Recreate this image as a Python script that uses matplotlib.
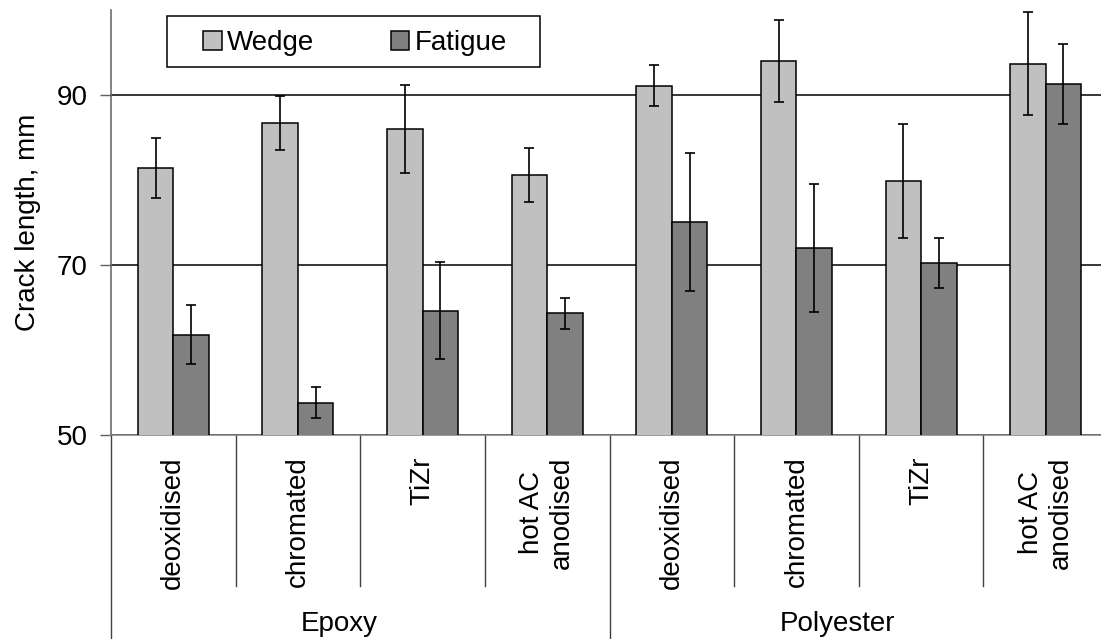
"""
Crack length for wedge and fatigue tests, by surface treatment and adhesive.
"""

import numpy as np
import matplotlib.pyplot as plt
from matplotlib.patches import Rectangle
from matplotlib.transforms import blended_transform_factory

plt.rcParams['font.family'] = ['Liberation Sans', 'DejaVu Sans']

# dados
tratamentos = ["deoxidised", "chromated", "TiZr", "hot AC\nanodised",
               "deoxidised", "chromated", "TiZr", "hot AC\nanodised"]
grupos = ["Epoxy", "Polyester"]
wedge = [81.4, 86.7, 86.0, 80.6, 91.1, 94.0, 79.9, 93.7]
wedge_err = [3.5, 3.2, 5.2, 3.2, 2.4, 4.8, 6.7, 6.1]
fatigue = [61.8, 53.8, 64.6, 64.3, 75.1, 72.0, 70.2, 91.3]
fatigue_err = [3.5, 1.85, 5.7, 1.8, 8.1, 7.5, 2.95, 4.75]

COR_WEDGE = "#c0c0c0"
COR_FATIGUE = "#808080"
FS = 20


def main():
    fig = plt.figure(figsize=(11.01, 6.39), dpi=100)
    W, H = 1101, 639
    ax = fig.add_axes([111 / W, 204 / H, 997 / W, 425 / H])

    x = np.arange(len(tratamentos))
    larg = 0.285
    err_kw = dict(ecolor="black", elinewidth=1.2, capsize=3.3, capthick=1.2)
    ax.bar(x - larg / 2, wedge, larg, color=COR_WEDGE,
           edgecolor="black", linewidth=1.1, yerr=wedge_err,
           error_kw=err_kw, label="Wedge", zorder=3)
    ax.bar(x + larg / 2, fatigue, larg, color=COR_FATIGUE,
           edgecolor="black", linewidth=1.1, yerr=fatigue_err,
           error_kw=err_kw, label="Fatigue", zorder=3)

    ax.set_xlim(-0.5, len(tratamentos) - 0.5)
    ax.set_ylim(50, 100)
    ax.set_yticks([50, 70, 90])
    ax.yaxis.grid(True, color="black", linewidth=1.1, zorder=0)
    ax.tick_params(axis="y", labelsize=FS, length=8, width=1, color="#606060", pad=9)
    ax.set_xticks([])
    ax.set_ylabel("Crack length, mm", fontsize=FS)
    ax.yaxis.set_label_coords(-0.07, 0.5)

    for lado in ["top", "right"]:
        ax.spines[lado].set_visible(False)
    ax.spines["left"].set_color("#606060")
    ax.spines["bottom"].set_color("#808080")
    ax.spines["left"].set_linewidth(1.1)
    ax.spines["bottom"].set_linewidth(1.1)

    # rótulos hierárquicos no eixo x
    trans = blended_transform_factory(ax.transData, ax.transAxes)
    for i, t in enumerate(tratamentos):
        ax.text(i, -0.05, t, rotation=90, ha="center", va="top",
                multialignment="center", fontsize=FS, transform=trans)
    for i in range(len(tratamentos) - 1):
        if i == 3:
            continue
        ax.plot([i + 0.5, i + 0.5], [0, -0.355], color="#404040", lw=1,
                transform=trans, clip_on=False)
    for b in [-0.5, 3.5, 7.5]:
        ax.plot([b, b], [0, -0.48], color="#404040", lw=1,
                transform=trans, clip_on=False)
    for g, centro in zip(grupos, [1.5, 5.5]):
        ax.text(centro - 0.17, -0.445, g, ha="center", va="center",
                fontsize=FS, transform=trans)

    # legenda com moldura
    fig.patches.append(Rectangle((167 / W, 1 - 67 / H), 373 / W, 51 / H,
                                 transform=fig.transFigure, fill=False,
                                 edgecolor="black", linewidth=1.1))
    fig.legend(loc="center", bbox_to_anchor=(355 / W, 1 - 43 / H),
               ncol=2, frameon=False, fontsize=FS, handlelength=0.65,
               handleheight=0.65, handletextpad=0.2, columnspacing=2.75,
               borderpad=0.2)

    fig.savefig("out.png", dpi=100)


if __name__ == "__main__":
    main()
